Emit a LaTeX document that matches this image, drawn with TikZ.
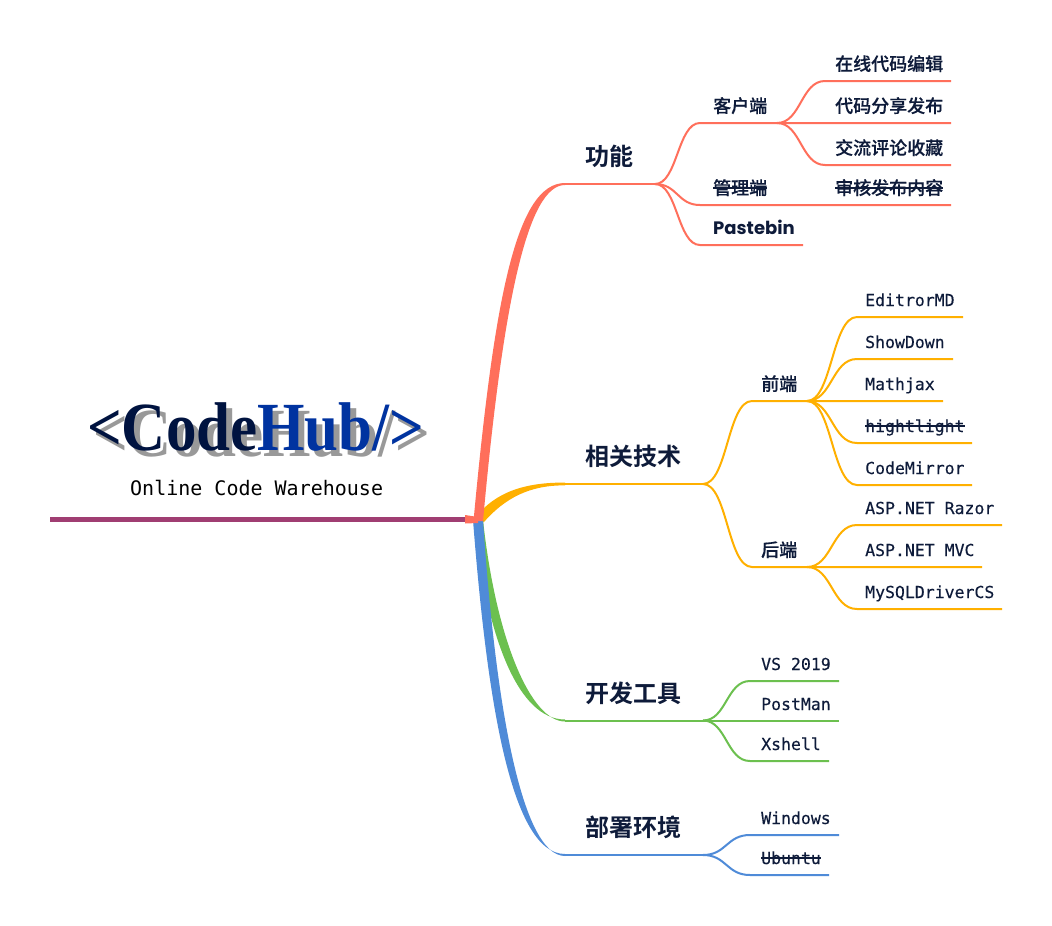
\documentclass[tikz,border=0pt]{standalone}
\usepackage{fontspec}
\setmainfont{Liberation Serif}
\newfontfamily\cjkf{Noto Sans CJK SC}[UprightFont=* Medium,BoldFont=* Bold]
\newfontfamily\cjkm{Noto Sans CJK SC}[UprightFont=* Medium,FakeBold=0.3]
\newfontfamily\popf{Poppins}
\newfontfamily\monof{DejaVu Sans Mono}
\newfontfamily\monob{DejaVu Sans Mono}[FakeBold=0.3]
\usetikzlibrary{calc}
\definecolor{ink}{HTML}{0E1B3A}
\definecolor{cred}{HTML}{FF6F5B}
\definecolor{cora}{HTML}{FFB000}
\definecolor{cgrn}{HTML}{6CC04F}
\definecolor{cblu}{HTML}{4F8BD8}
\definecolor{cbar}{HTML}{A03E72}
\definecolor{navy}{HTML}{001340}
\definecolor{royal}{HTML}{0033A0}
\newsavebox\strkbox
\newcommand\strk[1]{\sbox\strkbox{#1}\rlap{\raisebox{.33em}{\rule{\wd\strkbox}{1.3pt}}}\usebox\strkbox}
\newcommand\logoscale[1]{\scalebox{1}[1.13]{#1}}
\tikzset{
  x=1pt,y=-1pt,
  lab/.style={anchor=base west,inner sep=0pt,text=ink},
  big/.style={lab,font=\cjkf\fontsize{24}{24}\selectfont\bfseries},
  mid/.style={lab,font=\cjkm\fontsize{18}{18}\selectfont},
  pop/.style={lab,font=\popf\fontsize{18}{18}\selectfont\bfseries},
  mon/.style={lab,font=\monob\fontsize{16.5}{16.5}\selectfont},
  wire/.style={line width=2pt,line cap=butt},
  sig/.style={to path={.. controls ($(\tikztostart)!.5!(\tikztotarget|-\tikztostart)$) and ($(\tikztostart|-\tikztotarget)!.5!(\tikztotarget)$) .. (\tikztotarget)}},
  logo/.style={inner sep=0pt,anchor=base west,font=\fontsize{61}{61}\selectfont\bfseries},
}
\begin{document}
\begin{tikzpicture}
\fill[white] (0,0) rectangle (1052,926);
\useasboundingbox (0,0) rectangle (1052,926);

% title
\node[logo,text=black!40] (logoshadow) at (93,456) {\logoscale{<CodeHub/>}};
\node[logo] (logo) at (87,450) {\logoscale{\textcolor{navy}{<Code}\textcolor{royal}{Hub/>}}};
\node[inner sep=0pt,anchor=base west,font=\monof\fontsize{20}{20}\selectfont,text=black] (sub) at (130,495) {Online Code Warehouse};

% root
\coordinate (root) at (478,520);
\coordinate (barstart) at (50,519.5);
\coordinate (barend) at (466,519.5);
\draw[cbar,line width=5pt] (barstart) -- (barend);

% tapered main branches
\coordinate (f0) at (565,184);
\coordinate (t0) at (565,484);
\coordinate (d0) at (565,720.5);
\coordinate (e0) at (565,855);
\fill[cora] (475,518) .. controls (495,492) and (525,482.3) .. (565,482.6) -- (565,485.4) .. controls (530,485) and (505,498) .. (484,522) -- cycle;
\fill[cgrn] (474,520) .. controls (487,640) and (519,719.5) .. (565,719.5) -- (565,721.5) .. controls (531,721.5) and (496,640) .. (483,520) -- cycle;
\fill[cblu] (473,520) .. controls (487,700) and (511,854) .. (565,854) -- (565,856) .. controls (521,856) and (495,700) .. (483,520) -- cycle;
\fill[cred] (465,515) -- (478,517) -- (478,523) -- (465,523.5) -- cycle;
\fill[cred] (473.5,521) .. controls (494,300) and (516,183) .. (565,183) -- (565,185) .. controls (528,185) and (503,300) .. (483,521) -- cycle;

% ---------- feature branch (red)
\node[big] (func) at (585,165.5) {功能};
\coordinate (f1) at (655,184);
\coordinate (c0) at (700,123);
\coordinate (c1) at (777,123);
\coordinate (c1e) at (951,123);
\coordinate (c2) at (825,81);
\coordinate (c2e) at (951,81);
\coordinate (c3) at (825,165);
\coordinate (c3e) at (951,165);
\coordinate (m0) at (700,205);
\coordinate (m1e) at (951,205);
\coordinate (p0) at (700,245);
\coordinate (p1e) at (803,245);
\node[mid] (client) at (713,112.5) {客户端};
\node[mid] (admin) at (713,194.5) {\strk{管理端}};
\node[pop] (paste) at (713,234) {Pastebin};
\node[mid] (cl1) at (835,70.5) {在线代码编辑};
\node[mid] (cl2) at (835,112.5) {代码分享发布};
\node[mid] (cl3) at (835,154.5) {交流评论收藏};
\node[mid] (ad1) at (835,194.5) {\strk{审核发布内容}};
\draw[wire,cred] (f0) -- (f1);
\draw[wire,cred] (f1) to[sig] (c0) -- (c1e);
\draw[wire,cred] (c1) to[sig] (c2) -- (c2e);
\draw[wire,cred] (c1) to[sig] (c3) -- (c3e);
\draw[wire,cred] (f1) to[sig] (m0) -- (m1e);
\draw[wire,cred] (f1) to[sig] (p0) -- (p1e);

% ---------- tech branch (orange)
\node[big] (tech) at (585,465.5) {相关技术};
\coordinate (t1) at (703,484);
\coordinate (fe0) at (752,401);
\coordinate (fe1) at (807,401);
\coordinate (be0) at (752,567);
\coordinate (be1) at (807,567);
\coordinate (a1) at (857,317);\coordinate (a1e) at (963,317);
\coordinate (a2) at (857,359);\coordinate (a2e) at (953,359);
\coordinate (a3e) at (943,401);
\coordinate (a4) at (857,443);\coordinate (a4e) at (972,443);
\coordinate (a5) at (857,485);\coordinate (a5e) at (972,485);
\coordinate (b1) at (857,525);\coordinate (b1e) at (1002,525);
\coordinate (b2e) at (982,567);
\coordinate (b3) at (857,609);\coordinate (b3e) at (1002,609);
\node[mid] (front) at (761,390.5) {前端};
\node[mid] (back) at (761,556.5) {后端};
\node[mon] (e1) at (865,306) {EditrorMD};
\node[mon] (e2) at (865,348) {ShowDown};
\node[mon] (e3) at (865,390) {Mathjax};
\node[mon] (e4) at (865,432) {\strk{hightlight}};
\node[mon] (e5) at (865,474) {CodeMirror};
\node[mon] (s1) at (865,514) {ASP.NET Razor};
\node[mon] (s2) at (865,556) {ASP.NET MVC};
\node[mon] (s3) at (865,598) {MySQLDriverCS};
\draw[wire,cora] (t0) -- (t1);
\draw[wire,cora] (t1) to[sig] (fe0) -- (a3e);
\draw[wire,cora] (t1) to[sig] (be0) -- (b2e);
\draw[wire,cora] (fe1) to[sig] (a1) -- (a1e);
\draw[wire,cora] (fe1) to[sig] (a2) -- (a2e);
\draw[wire,cora] (fe1) to[sig] (a4) -- (a4e);
\draw[wire,cora] (fe1) to[sig] (a5) -- (a5e);
\draw[wire,cora] (be1) to[sig] (b1) -- (b1e);
\draw[wire,cora] (be1) to[sig] (b3) -- (b3e);

% ---------- tools branch (green)
\node[big] (tools) at (585,702.5) {开发工具};
\coordinate (d1) at (703,720.5);
\coordinate (g1) at (750,681);\coordinate (g1e) at (839,681);
\coordinate (g2e) at (839,720.5);
\coordinate (g3) at (750,761);\coordinate (g3e) at (829,761);
\node[mon] (v1) at (761,670) {VS 2019};
\node[mon] (v2) at (761,710) {PostMan};
\node[mon] (v3) at (761,750) {Xshell};
\draw[wire,cgrn] (d0) -- (g2e);
\draw[wire,cgrn] (d1) to[sig] (g1) -- (g1e);
\draw[wire,cgrn] (d1) to[sig] (g3) -- (g3e);

% ---------- deploy branch (blue)
\node[big] (deploy) at (585,836.5) {部署环境};
\coordinate (e1b) at (703,855);
\coordinate (h1) at (750,835);\coordinate (h1e) at (839,835);
\coordinate (h2) at (750,875);\coordinate (h2e) at (829,875);
\node[mon] (w1) at (761,824) {Windows};
\node[mon] (w2) at (761,864) {\strk{Ubuntu}};
\draw[wire,cblu] (e0) -- (e1b);
\draw[wire,cblu] (e1b) to[sig] (h1) -- (h1e);
\draw[wire,cblu] (e1b) to[sig] (h2) -- (h2e);
\end{tikzpicture}
\end{document}
